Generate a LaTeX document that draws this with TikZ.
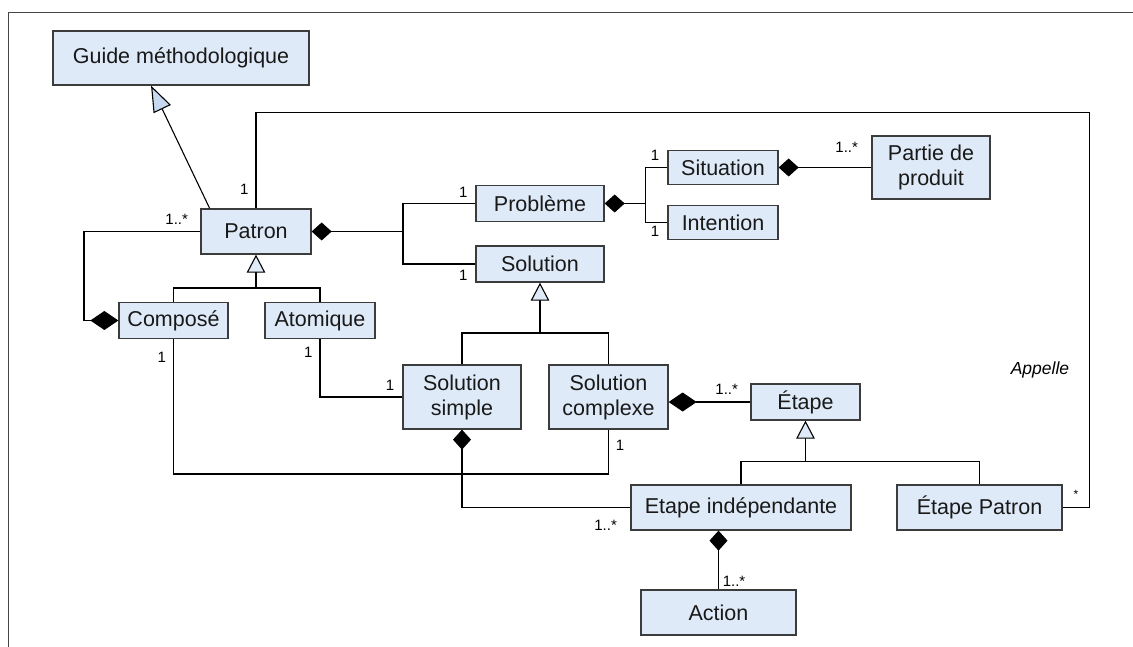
\documentclass[tikz,border=0pt]{standalone}
\usepackage{fontspec}
\setmainfont{Liberation Sans}
\usetikzlibrary{arrows.meta,calc}
\definecolor{boxfill}{RGB}{222,234,247}
\definecolor{boxline}{RGB}{60,60,60}
\definecolor{genfill}{RGB}{198,217,240}
\definecolor{framecol}{RGB}{70,70,70}
\begin{document}
\begin{tikzpicture}[x=1pt,y=-1pt,
  cls/.style={draw=boxline, fill=boxfill, line width=1.3pt, inner sep=0pt,
              align=center, text=black!90, font=\fontsize{21.5}{25}\selectfont},
  mult/.style={inner sep=0pt, font=\fontsize{15}{17}\selectfont},
  link/.style={line width=1.1pt},
  comp/.style={link, {Diamond[length=20pt,width=18pt]}-},
  compL/.style={link, {Diamond[length=28pt,width=19pt]}-},
  gen/.style={link, -{Triangle[open, fill=boxfill, length=18pt, width=18.5pt]}},
  genbig/.style={link, -{Triangle[open, fill=genfill, length=26pt, width=19pt]}},
]
\useasboundingbox (0,0) rectangle (1133,647);
\draw[framecol, line width=1.5pt] (8.5,647) -- (8.5,12.5) -- (1133,12.5);

% classes
\node[cls, minimum width=256, minimum height=54] (guide) at (181,58) {Guide méthodologique};
\node[cls, minimum width=110, minimum height=45] (patron) at (256,231.5) {Patron};
\node[cls, minimum width=109, minimum height=36] (compose) at (173.5,320.5) {Composé};
\node[cls, minimum width=110, minimum height=36] (atomique) at (320,320.5) {Atomique};
\node[cls, minimum width=128, minimum height=35.5] (probleme) at (540,203.5) {Problème};
\node[cls, minimum width=128, minimum height=36] (solution) at (540,264) {Solution};
\node[cls, minimum width=110, minimum height=33.5] (situation) at (723,167.5) {Situation};
\node[cls, minimum width=110, minimum height=33.5] (intention) at (723,222.5) {Intention};
\node[cls, minimum width=118, minimum height=63] (partie) at (931,167.5) {Partie de\\produit};
\node[cls, minimum width=118, minimum height=64] (solsimple) at (462,397) {Solution\\simple};
\node[cls, minimum width=119, minimum height=64] (solcomplexe) at (608.5,397) {Solution\\complexe};
\node[cls, minimum width=109, minimum height=36] (etape) at (805.5,402) {Étape};
\node[cls, minimum width=220, minimum height=45] (etapeind) at (741,507.5) {Etape indépendante};
\node[cls, minimum width=165, minimum height=45] (etapepatron) at (979.5,507.5) {Étape Patron};
\node[cls, minimum width=155, minimum height=45] (action) at (718.5,612.5) {Action};

% junction points of the connectors
\coordinate (j1) at (403,231.5);
\coordinate (j2) at (645.7,203.5);
\coordinate (c1) at (84,320.5);
\coordinate (c2) at (300,474);
\coordinate (g1) at (256,288);
\coordinate (g2) at (540,333);
\coordinate (g3) at (805.5,461.7);
\coordinate (a1) at (1089.5,112.7);

% generalisations
\draw[genbig] ($(patron.north west)+(9.3,0)$) -- ($(guide.south west)+(98.7,0)$);
\draw[link] (compose.north) |- (g1) -| (atomique.north);
\draw[gen] (g1) -- (patron.south);
\draw[link] (solsimple.north) |- (g2) -| (solcomplexe.north);
\draw[gen] (g2) -- (solution.south);
\draw[link] (etapeind.north) |- (g3) -| (etapepatron.north);
\draw[gen] (g3) -- (etape.south);

% compositions
\draw[comp] (patron.east) -- (j1);
\draw[link] (probleme.west) -| (j1) |- (solution.west);
\draw[comp] (probleme.east) -- (j2);
\draw[link] (situation.west) -| (j2) |- (intention.west);
\draw[comp] (situation.east) -- (partie.west);
\draw[compL] (compose.west) -- (c1) |- (patron.west);
\draw[compL] (solcomplexe.east |- etape.west) -- (etape.west);
\draw[comp] (solsimple.south) |- (etapeind.west);
\draw[comp] (etapeind.south -| action.north) -- (action.north);

% associations
\draw[link] (compose.south) |- (c2) -| (solcomplexe.south);
\draw[link] (atomique.south) |- (solsimple.west);
\draw[link] (patron.north) |- (a1) |- (etapepatron.east);

% multiplicities and role name
\node[mult] (m1) at (244.3,189) {1};
\node[mult] (m2) at (176.7,219.3) {1..*};
\node[mult] (m3) at (463.3,192.3) {1};
\node[mult] (m4) at (463.3,275) {1};
\node[mult] (m5) at (655,155) {1};
\node[mult] (m6) at (655,231.7) {1};
\node[mult] (m7) at (846.7,147.3) {1..*};
\node[mult] (m8) at (161.7,357.3) {1};
\node[mult] (m9) at (308.3,352.7) {1};
\node[mult] (m10) at (390,385) {1};
\node[mult] (m11) at (620,445) {1};
\node[mult] (m12) at (726.7,389.3) {1..*};
\node[mult] (m13) at (605.6,525) {1..*};
\node[mult, font=\fontsize{12}{14}\selectfont] (m14) at (1076,494) {*};
\node[mult] (m15) at (734,581.7) {1..*};
\node[inner sep=0pt, font=\itshape\fontsize{17.5}{20}\selectfont] (appelle) at (1040,370) {Appelle};
\end{tikzpicture}
\end{document}
